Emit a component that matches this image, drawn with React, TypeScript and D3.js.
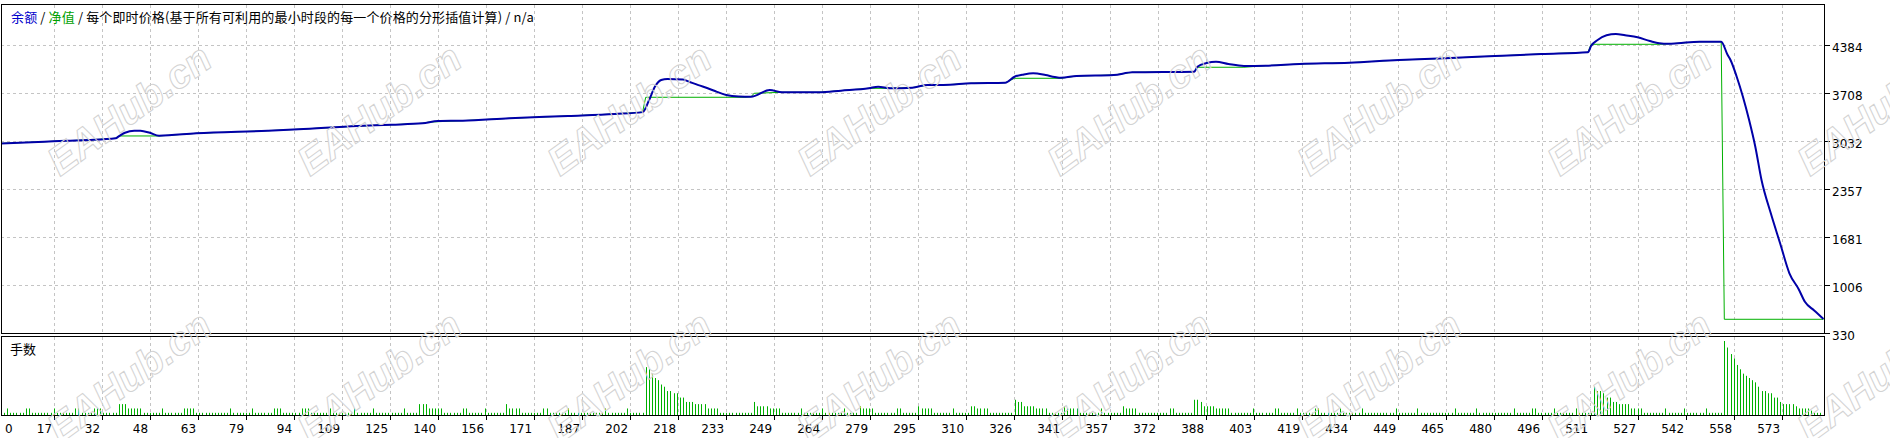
import React from 'react';
import * as d3 from 'd3';

const W = 1890;
const H = 438;

// ---- data ----
const legendSeries = ['余额', '净值'];
const legendRest = ' / 每个即时价格(基于所有可利用的最小时段的每一个价格的分形插值计算) / n/a';
const subTitle = '手数';
const watermark = 'EAHub.cn';

const yTickLabels = ['4384', '3708', '3032', '2357', '1681', '1006', '330'];
const xTickLabels = ['17', '32', '48', '63', '79', '94', '109', '125', '140', '156', '171', '187', '202', '218', '233', '249', '264', '279', '295', '310', '326', '341', '357', '372', '388', '403', '419', '434', '449', '465', '480', '496', '511', '527', '542', '558', '573'];
const firstXLabel = '0';

const balanceTrades = [0, 14, 21, 28, 37, 38, 40, 43, 45, 48, 51, 63, 86, 96, 115, 126, 136, 141, 149, 164, 183, 198, 207, 209, 211, 213, 215, 220, 222, 225, 228, 231, 234, 238, 242, 248, 252, 264, 271, 280, 283, 287, 294, 299, 304, 313, 324, 327, 330, 333, 337, 340, 342, 347, 359, 365, 385, 386, 389, 392, 396, 401, 408, 419, 435, 451, 466, 482, 497, 512, 513, 515, 518, 521, 524, 528, 532, 535, 538, 541, 548, 555, 557, 558, 560, 562, 564, 566, 568, 571, 574, 577, 580, 582, 585, 588];
const balanceValues = [3000, 3024, 3038, 3048, 3072, 3100, 3150, 3179, 3178, 3150, 3109, 3142, 3179, 3199, 3245, 3263, 3283, 3315, 3320, 3353, 3386, 3414, 3440, 3600, 3800, 3892, 3906, 3900, 3868, 3820, 3775, 3725, 3681, 3660, 3657, 3751, 3719, 3719, 3742, 3775, 3798, 3775, 3784, 3822, 3822, 3846, 3854, 3938, 3970, 3986, 3962, 3935, 3924, 3948, 3962, 4000, 4009, 4079, 4130, 4149, 4117, 4089, 4093, 4117, 4135, 4173, 4197, 4229, 4258, 4281, 4370, 4450, 4520, 4539, 4520, 4492, 4440, 4408, 4400, 4408, 4430, 4430, 4250, 4173, 3938, 3657, 3329, 2954, 2486, 2017, 1596, 1174, 950, 774, 650, 531];

const equityTrades = [0, 14, 21, 28, 37, 38, 51, 63, 86, 96, 115, 126, 136, 138, 149, 164, 183, 198, 207, 208, 240, 242, 243, 252, 264, 271, 280, 287, 294, 299, 304, 313, 324, 327, 342, 347, 359, 365, 385, 386, 401, 408, 419, 435, 451, 466, 482, 497, 512, 513, 535, 541, 548, 555, 556, 588];
const equityValues = [3000, 3024, 3038, 3048, 3072, 3105, 3105, 3142, 3179, 3199, 3245, 3263, 3283, 3300, 3320, 3353, 3386, 3414, 3440, 3649, 3649, 3657, 3705, 3719, 3719, 3742, 3775, 3775, 3784, 3822, 3822, 3846, 3854, 3916, 3916, 3948, 3962, 4000, 4009, 4071, 4071, 4093, 4117, 4135, 4173, 4197, 4229, 4258, 4281, 4394, 4394, 4408, 4430, 4430, 527, 527];

// lots per trade (hundredths), trade 0..588
const volumes = [
  0, 1, 3, 1, 1, 1, 1, 1, 3, 3, 1, 1, 1, 1, 1, 1, 1, 3, 1, 1,
  1, 1, 1, 1, 3, 3, 1, 1, 1, 1, 3, 3, 3, 1, 1, 1, 1, 1, 5, 5,
  5, 3, 3, 3, 3, 3, 1, 1, 1, 1, 1, 1, 3, 1, 1, 1, 1, 1, 1, 3,
  3, 3, 3, 1, 1, 1, 1, 1, 1, 1, 1, 1, 1, 1, 3, 1, 1, 1, 1, 1,
  1, 3, 1, 1, 1, 1, 1, 1, 3, 3, 3, 1, 1, 1, 1, 1, 1, 3, 3, 3,
  1, 1, 1, 1, 1, 1, 3, 1, 1, 1, 1, 1, 1, 1, 3, 1, 1, 1, 1, 1,
  3, 1, 1, 1, 1, 1, 1, 1, 1, 1, 3, 1, 1, 1, 1, 5, 5, 5, 3, 3,
  3, 3, 3, 1, 1, 1, 1, 1, 1, 3, 3, 1, 1, 1, 1, 1, 3, 1, 1, 1,
  1, 1, 1, 5, 3, 3, 3, 3, 1, 1, 1, 1, 1, 1, 1, 3, 3, 1, 1, 1,
  1, 1, 1, 3, 1, 1, 1, 1, 1, 1, 1, 1, 1, 1, 1, 3, 1, 1, 1, 1,
  1, 1, 3, 1, 1, 1, 1, 1, 22, 21, 19, 17, 16, 14, 13, 11, 11, 10, 10, 8,
  8, 6, 6, 6, 5, 5, 5, 5, 3, 3, 3, 3, 1, 1, 1, 1, 1, 1, 1, 1,
  1, 1, 1, 6, 4, 4, 4, 4, 3, 3, 3, 3, 1, 1, 1, 1, 1, 1, 3, 1,
  1, 1, 1, 1, 1, 3, 1, 1, 1, 1, 1, 1, 3, 1, 1, 1, 1, 4, 3, 3,
  3, 3, 1, 1, 1, 1, 1, 1, 1, 3, 3, 1, 1, 1, 1, 1, 4, 3, 3, 3,
  3, 1, 1, 1, 1, 1, 1, 3, 1, 1, 1, 1, 1, 4, 4, 3, 3, 3, 3, 1,
  1, 1, 1, 1, 1, 1, 1, 7, 6, 6, 4, 4, 4, 4, 3, 3, 3, 3, 1, 1,
  1, 1, 1, 4, 3, 3, 3, 3, 1, 1, 1, 1, 1, 1, 1, 3, 1, 1, 1, 1,
  1, 1, 4, 3, 3, 3, 3, 1, 1, 1, 1, 1, 1, 1, 1, 1, 1, 3, 3, 1,
  1, 1, 1, 1, 1, 7, 7, 6, 4, 4, 4, 4, 3, 3, 3, 3, 3, 1, 1, 1,
  1, 1, 1, 1, 3, 1, 1, 1, 1, 1, 1, 3, 3, 1, 1, 1, 1, 1, 3, 1,
  1, 1, 1, 1, 3, 3, 1, 1, 1, 1, 1, 1, 3, 1, 1, 1, 1, 1, 1, 3,
  1, 1, 1, 1, 1, 1, 1, 1, 1, 1, 3, 1, 1, 1, 1, 1, 1, 3, 1, 1,
  1, 1, 1, 1, 1, 1, 1, 1, 1, 3, 1, 1, 1, 1, 1, 1, 3, 1, 1, 1,
  1, 1, 1, 1, 1, 1, 1, 1, 3, 1, 1, 1, 1, 1, 3, 3, 1, 1, 1, 1,
  1, 3, 1, 1, 1, 1, 1, 1, 3, 1, 1, 1, 1, 1, 13, 11, 11, 10, 8, 8,
  6, 6, 5, 5, 5, 5, 3, 3, 3, 3, 1, 1, 1, 1, 1, 1, 1, 3, 1, 1,
  1, 1, 1, 3, 1, 1, 1, 1, 1, 1, 3, 1, 1, 1, 1, 1, 34, 31, 28, 26,
  23, 21, 19, 18, 17, 16, 15, 13, 11, 11, 10, 10, 8, 8, 6, 5, 5, 5, 5, 4,
  3, 3, 3, 3, 2, 1, 1, 1, 1,
];

const BLUE = '#0000a8';
const GREEN = '#00b000';
const GRID = '#c4c4c4';

export default function App() {
  const x = d3.scaleLinear().domain([0, 588]).range([1, 1823.5]);
  const y = d3.scaleLinear().domain([330, 4384]).range([333.3, 45]);
  const yv = d3.scaleLinear().domain([0, 34]).range([415, 341]);
  const gx = d3.scaleLinear().domain([0, xTickLabels.length - 1]).range([53.6, 1781.6]);

  const line = d3.line<[number, number]>().x(d => x(d[0])).y(d => y(d[1])).curve(d3.curveMonotoneX);
  const stepLine = d3.line<[number, number]>().x(d => x(d[0])).y(d => y(d[1]));
  const balancePath = line(balanceTrades.map((t, i) => [t, balanceValues[i]] as [number, number])) || '';
  const equityPath = stepLine(equityTrades.map((t, i) => [t, equityValues[i]] as [number, number])) || '';

  const px = (v: number) => Math.round(v) + 0.5;

  const wmCols = d3.range(8);
  const wmRows = [177, 444];

  return (
    <svg width={W} height={H} style={{ position: 'absolute', left: 0, top: 0, background: '#fff' }}
      xmlns="http://www.w3.org/2000/svg">
      <rect x={0} y={0} width={W} height={H} fill="#fff" />
      {/* grid: horizontal (main panel) */}
      {yTickLabels.slice(0, -1).map(l => (
        <line key={'hg' + l} x1={1} x2={1824} y1={px(y(+l))} y2={px(y(+l))}
          stroke={GRID} strokeDasharray="3,3" />
      ))}
      {/* grid: vertical (both panels) */}
      {xTickLabels.map((l, k) => (
        <g key={'vg' + l}>
          <line x1={px(gx(k))} x2={px(gx(k))} y1={5} y2={333} stroke={GRID} strokeDasharray="3,3" />
          <line x1={px(gx(k))} x2={px(gx(k))} y1={337} y2={415} stroke={GRID} strokeDasharray="3,3" />
          <line x1={px(gx(k))} x2={px(gx(k))} y1={416} y2={420} stroke="#000" />
          <text x={gx(k) - 1.5} y={433} textAnchor="end" fontFamily="'DejaVu Sans'" fontSize={12} fill="#000">{l}</text>
        </g>
      ))}
      <text x={5} y={433} textAnchor="start" fontFamily="'DejaVu Sans'" fontSize={12} fill="#000">{firstXLabel}</text>

      {/* y axis labels */}
      {yTickLabels.map(l => (
        <g key={'yl' + l}>
          <line x1={1825} x2={1830} y1={px(y(+l))} y2={px(y(+l))} stroke="#000" />
          <text x={1832} y={y(+l) + 6.5} fontFamily="'DejaVu Sans'" fontSize={12} fill="#000">{l}</text>
        </g>
      ))}

      {/* volume bars */}
      {volumes.map((v, i) => v > 0 ? (
        <line key={'v' + i} x1={px(x(i))} x2={px(x(i))} y1={415} y2={yv(v)} stroke={GREEN} strokeWidth={1} />
      ) : null)}

      {/* equity and balance */}
      <path d={equityPath} fill="none" stroke={GREEN} strokeWidth={1} />
      <path d={balancePath} fill="none" stroke={BLUE} strokeWidth={2} strokeLinejoin="round" />

      {/* frames */}
      <rect x={1.5} y={4.5} width={1823} height={329} fill="none" stroke="#000" />
      <rect x={1.5} y={336.5} width={1823} height={79} fill="none" stroke="#000" />

      {/* legend */}
      <text x={11} y={22} fontFamily="'Noto Sans CJK SC'" fontSize={13} letterSpacing={0.13} style={{ whiteSpace: 'pre' }}>
        <tspan fill="#0000cc">{legendSeries[0]}</tspan>
        <tspan fill="#000"> / </tspan>
        <tspan fill="#00a000">{legendSeries[1]}</tspan>
        <tspan fill="#000">{legendRest}</tspan>
      </text>
      <text x={10} y={354} fontFamily="'Noto Sans CJK SC'" fontSize={13} fill="#000">{subTitle}</text>

      {/* watermark */}
      {wmRows.map(ry => wmCols.map(c => (
        <text key={'wm' + ry + '-' + c} transform={`translate(${60 + 250 * c},${ry}) rotate(-36)`}
          fontFamily="'Liberation Sans'" fontWeight="bold" fontStyle="italic" fontSize={40}
          fill="none" stroke="#d2d2d2" strokeWidth={1}>{watermark}</text>
      )))}
    </svg>
  );
}
